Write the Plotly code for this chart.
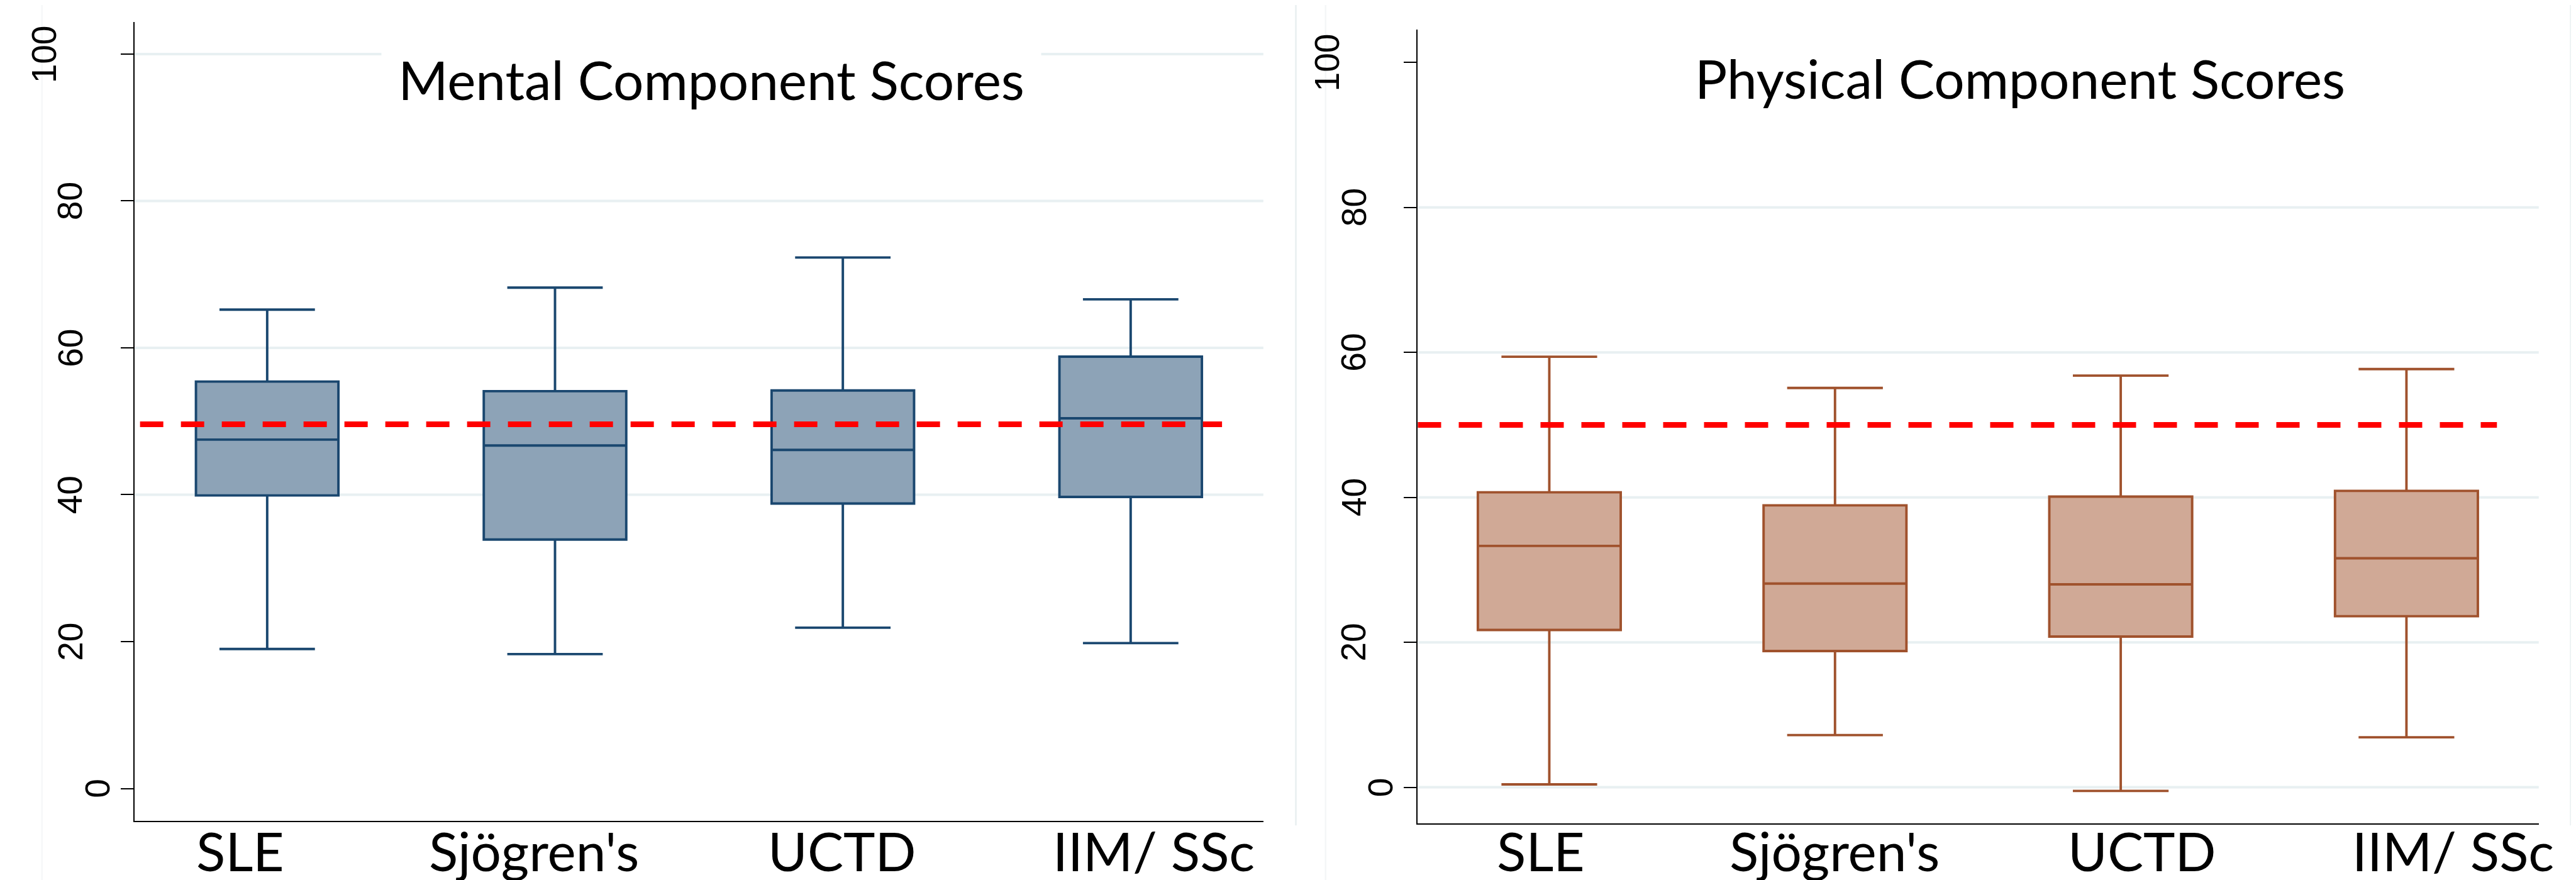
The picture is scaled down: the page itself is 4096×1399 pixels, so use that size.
import plotly.graph_objects as go

# ---------------- data ----------------
categories = ["SLE", "Sjögren's", "UCTD", "IIM/ SSc"]

mcs_lower = [19.0, 18.3, 21.9, 19.8]
mcs_q1 = [39.9, 33.9, 38.8, 39.7]
mcs_median = [47.5, 46.7, 46.1, 50.4]
mcs_q3 = [55.4, 54.1, 54.2, 58.8]
mcs_upper = [65.2, 68.2, 72.3, 66.6]

pcs_lower = [0.4, 7.2, -0.5, 6.9]
pcs_q1 = [21.7, 18.8, 20.8, 23.6]
pcs_median = [33.3, 28.1, 28.0, 31.6]
pcs_q3 = [40.7, 38.9, 40.1, 40.9]
pcs_upper = [59.4, 55.1, 56.8, 57.7]

norm_mcs = 49.6
norm_pcs = 50.0

ytick_vals = [0, 20, 40, 60, 80, 100]
mcs_grid = [40, 60, 80, 100]
pcs_grid = [0, 20, 40, 60, 80]

titles = ["Mental Component Scores", "Physical Component Scores"]

# ---------------- styling ----------------
W, H = 4096, 1399
NAVY = "#1A476F"
NAVY_FILL = "#8DA3B7"
SIENNA = "#A0522D"
SIENNA_FILL = "#D0A996"
GRID = "#E8F0F2"
TXT_FONT = "Lato"
TXT_SIZE = 85.5
NUM_FONT = "Liberation Sans Narrow, Liberation Sans, Arial"
NUM_SIZE = 55

fig = go.Figure()

fig.add_trace(go.Box(
    x=categories, q1=mcs_q1, median=mcs_median, q3=mcs_q3,
    lowerfence=mcs_lower, upperfence=mcs_upper,
    width=0.495, whiskerwidth=0.67, boxpoints=False,
    fillcolor=NAVY_FILL, line=dict(color=NAVY, width=3.9),
    xaxis="x", yaxis="y", showlegend=False, hoverinfo="skip"))

fig.add_trace(go.Box(
    x=categories, q1=pcs_q1, median=pcs_median, q3=pcs_q3,
    lowerfence=pcs_lower, upperfence=pcs_upper,
    width=0.5, whiskerwidth=0.67, boxpoints=False,
    fillcolor=SIENNA_FILL, line=dict(color=SIENNA, width=3.9),
    xaxis="x2", yaxis="y2", showlegend=False, hoverinfo="skip"))

xcommon = dict(type="category", showline=True, linecolor="black", linewidth=2.4,
               ticks="", showticklabels=False, showgrid=False, zeroline=False,
               fixedrange=True)
ycommon = dict(showline=True, linecolor="black", linewidth=2, ticks="outside",
               ticklen=20, tickwidth=2, tickcolor="black", tickmode="array",
               tickvals=ytick_vals, showticklabels=False, showgrid=False,
               zeroline=False, fixedrange=True)

fig.update_layout(
    width=W, height=H,
    margin=dict(l=0, r=0, t=0, b=0, pad=0, autoexpand=False),
    paper_bgcolor="white", plot_bgcolor="white",
    xaxis=dict(domain=[0.05026, 0.48848], range=[-0.461, 3.461], anchor="y", **xcommon),
    yaxis=dict(domain=[0.07304, 0.9808], range=[-4.39, 104.37], anchor="x", **ycommon),
    xaxis2=dict(domain=[0.54846, 0.98358], range=[-0.46, 3.463], anchor="y2", **xcommon),
    yaxis2=dict(domain=[0.07022, 0.97179], range=[-4.96, 104.5], anchor="x2", **ycommon),
)

shapes = []
# faint panel separators
for xf, col, y0 in [(0.01434, "#F6F8F9", 0.0), (0.5011, "#E9EFF1", 0.0677),
                    (0.51265, "#F4F6F7", 0.0), (0.99597, "#ECF1F3", 0.0677)]:
    shapes.append(dict(type="line", xref="paper", yref="paper", x0=xf, x1=xf,
                       y0=y0, y1=1, line=dict(color=col, width=2.5), layer="below"))
# grid lines
for v in mcs_grid:
    shapes.append(dict(type="line", xref="x domain", yref="y", x0=0, x1=1, y0=v, y1=v,
                       line=dict(color=GRID, width=4), layer="below"))
for v in pcs_grid:
    shapes.append(dict(type="line", xref="x2 domain", yref="y2", x0=0, x1=1, y0=v, y1=v,
                       line=dict(color=GRID, width=4), layer="below"))
# reference lines
shapes.append(dict(type="line", xref="x domain", yref="y", x0=0.0049, x1=0.9634,
                   y0=norm_mcs, y1=norm_mcs,
                   line=dict(color="#FF0000", width=9, dash="37px,28px"), layer="above"))
shapes.append(dict(type="line", xref="x2 domain", yref="y2", x0=0.0, x1=0.9627,
                   y0=norm_pcs, y1=norm_pcs,
                   line=dict(color="#FF0000", width=9, dash="37px,28px"), layer="above"))
fig.update_layout(shapes=shapes)

ann = []
# y tick labels (rotated)
for xr, yr in [("x domain", "y"), ("x2 domain", "y2")]:
    for v in ytick_vals:
        t = str(v)
        ann.append(dict(text=t, xref=xr, yref=yr, x=0, y=v, xanchor="center",
                        yanchor="middle", xshift=-(17.5 + 42.3 * len(t)), textangle=-90,
                        showarrow=False, borderpad=0,
                        font=dict(family=NUM_FONT, size=NUM_SIZE, color="black")))
# titles
ann.append(dict(text=titles[0], xref="x domain", yref="paper", x=0.511, y=0.9155,
                xanchor="center", yanchor="middle", showarrow=False, width=1048,
                bgcolor="white", borderpad=0,
                font=dict(family=TXT_FONT, size=TXT_SIZE, color="black")))
ann.append(dict(text=titles[1], xref="x2 domain", yref="paper", x=0.5375, y=0.9173,
                xanchor="center", yanchor="middle", showarrow=False, borderpad=0,
                font=dict(family=TXT_FONT, size=TXT_SIZE, color="black")))
# category labels
left_pos = [0.0937, 0.3538, 0.6266, 0.9029]
right_pos = [0.1099, 0.3718, 0.6461, 0.9234]
for c, xp in zip(categories, left_pos):
    ann.append(dict(text=c, xref="x domain", yref="paper", x=xp, y=0, yshift=3,
                    xanchor="center", yanchor="bottom", showarrow=False, borderpad=0,
                    font=dict(family=TXT_FONT, size=TXT_SIZE, color="black")))
for c, xp in zip(categories, right_pos):
    ann.append(dict(text=c, xref="x2 domain", yref="paper", x=xp, y=0, yshift=3,
                    xanchor="center", yanchor="bottom", showarrow=False, borderpad=0,
                    font=dict(family=TXT_FONT, size=TXT_SIZE, color="black")))
fig.update_layout(annotations=ann)

fig.write_html("out.html")
